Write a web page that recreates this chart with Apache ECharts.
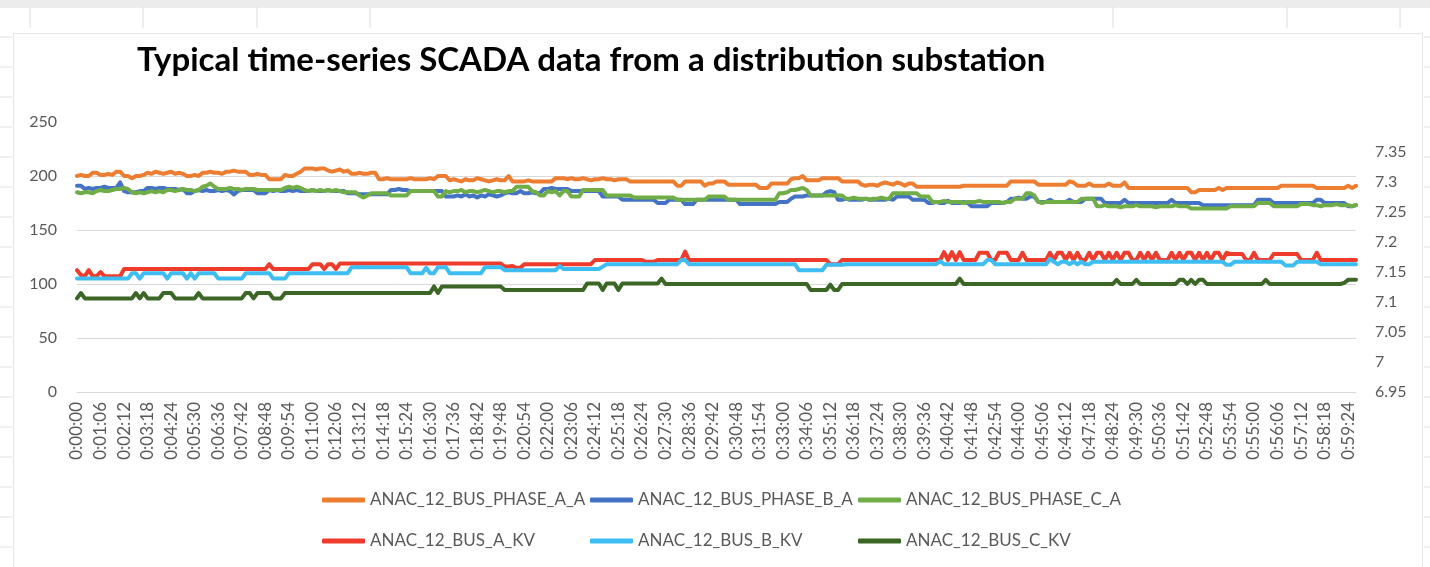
<!DOCTYPE html>
<html>
<head>
<meta charset="utf-8">
<script src="https://cdn.jsdelivr.net/npm/echarts@6/dist/echarts.min.js"></script>
<style>
  html, body { margin: 0; padding: 0; background: #ffffff; }
  #chart { width: 1430px; height: 567px; }
</style>
</head>
<body>
<div id="chart"></div>
<script>
// Sampling: one reading every 11 s for one hour (0:00:00 … 0:59:46)
const sampleStepSeconds = 11;
const sampleCount = 327;
const timeLabels = [];
for (let i = 0; i < sampleCount; i++) {
  const t = i * sampleStepSeconds;
  const h = Math.floor(t / 3600), m = Math.floor((t % 3600) / 60), s = t % 60;
  timeLabels.push(h + ':' + String(m).padStart(2, '0') + ':' + String(s).padStart(2, '0'));
}

const seriesNames = [
  'ANAC_12_BUS_PHASE_A_A', 'ANAC_12_BUS_PHASE_B_A', 'ANAC_12_BUS_PHASE_C_A',
  'ANAC_12_BUS_A_KV', 'ANAC_12_BUS_B_KV', 'ANAC_12_BUS_C_KV'
];

// Phase currents (A), left axis
const phaseA_A = [
  200,201,200,200, 203,203, 201,201,202,201, 204,204, 200,200, 198, 200,200,201,
  203,202,204,203,202,203,204,202,203,202, 200,200,201,200, 203,203,204,203,203,202,
  204,204,205,204,204,204, 201,201,202,201,201, 197,197,197,197, 201,200,200, 202,204,
  207,207,207,206,207,207, 205,204,205,206,204,205, 202,202,203,202,202, 203,203,
  197,197,198,197,197,
  197,197,197,198,197,197,197,197,198,197, 200,200,200,
  196,197,196,195,197,196,196,198,197,196,195,196,197,196,196, 200,
  195,195,195,195,196,195,195,195,195,195,195, 198,198,198,197,198,
  197,197,198,197,196,197,197,198,197,197,196,197,197,197,
  195,195,195,195,195,195,195,195,195,195,195,195, 191,191, 195,195,195,195,195, 191,
  193,193,195,195,195, 192,192,192,192,192,192,192,192, 189,189,189, 193,193,193,193,193,
  197,198,198,200, 196,196,196,196, 198,198,198,198,198, 195,195,195,195,195,
  192,191,192,192,191, 193,194,193,192,194,193,191,193,193,
  190,190,190,190,190,190,190,190,190,190,190,190,
  191,191,191,191,191,191,191,191,191,191,191,191,
  195,195,195,195,195,195,195, 192,192,192,192,192,192,192,192, 195,194,
  191,191,191,193,191,191,191,191,193,191,191,191, 194,
  189,189,189,189,189,189,189,189,189,189,189,189,189,189,189,189, 185,185,
  187,187,187,187,187, 189,187,189,189,189,
  189,189,189,189,189,189,189,189,189,189,189,
  191,191,191,191,191,191,191,191,191, 189,189,189,189,189,189,189,189, 191,189,191
];

const phaseB_A = [
  191,191, 188,189,188, 189,189,190,189,189,189, 194, 186,185,185,185,186,186,
  189,189,188,189,189, 188,188,188,187,188, 184,184,
  186,187,186,187,186,186,187,186,187, 186,183,186, 187,187,187,187, 184,184,184,
  187,186,187,186,186,187,186,187,186,
  186,186,187,186,186,186,187,186,186,186,186, 184,184,184,
  183,183,183,183,183,183,183,183, 187,187,188,187,187,
  186,186,186,186,186,186,186,186,186, 181,181,181,
  182,181,183,181,182,180,182,181,183,182,181,182,
  184,185,184,184,186,184,184,185,184,184, 188,188,189,188,188,188,188,
  186,186,186,186,186,186,186,186, 181,181,181,181,181,
  178,178,178,178,178,178,178,178,178, 175,175,175, 178,178,178,178, 174,174,174,
  178,178,178,178,178,178,178,178,178,178,178,
  174,174,174,174,174,174,174,174,174,174, 176,176,176, 179,181,181,181,
  182,182,182,182, 182,185,186,185,
  178,178,179,178,178,178,178,179,178,178,178,178,178,179,178,
  181,181,181,181, 178,178,178,178,
  175,175,176,175,175,177,175,175,175,176,175, 172,172,172,172,172,
  175,175,175,175,176, 179,179,180,179,179, 181,181,
  176,176,176,178,176,176,176,176,178,176,176,176, 179,179,179,179,179,
  175,175,175,175,175,178,175,175,175,175,175,175,175,175,175,175,175,178,175,175,175,175,175,175,175,
  173,173,173,173,173,173,173,173,173,173,173,173,173,173, 178,178,178,178,
  175,175,175,175,175,175,175,175,175,175,175,178,178,175,175,175,175,175,175,
  172,172,173
];

const phaseC_A = [
  185,184,185,185,184, 186,187,186,186,187, 188,188,189,188, 185,184,185,184,
  185,186,185,186,185, 187,187,186,187,188,187,187,186,187, 190,191,193,190,
  188,188,188,189,188,188,187,188,188,188, 187,187,187,187,187,187,187,
  189,190,189,190,189, 187,186,187,186,187,186,187,186,187,186, 185,185,185,185,
  182,180,182, 184,184,184,184,184, 182,182,182,182,182, 186,186,186,186,186,186,186,
  181,181,
  186,185,186,186,187,185,186,186,185,186,187,186,185,186,186,185,186,186,
  190,190,190,190, 186,185, 182,182, 186,185,186,182,186,186, 181,181,181,
  187,187,187,187,187,187, 182,182,182,182,182,182,182,
  180,180,180,180,180,180,180,180,180,180,180, 178,178,178,178,178,178,178,178,
  181,181,181,181,181, 178,178,178,178,178,178,178,178,178,178,178,178,178,
  184,184,185, 187,187,188,189,187, 182,182,182,182,182,182,182,182,182,
  179,179,180,179,179,179,178,179,179,180,179,179, 184,184,184,184,184,184,184,
  181,181,181,
  176,176,176,177,176,176,176,176,175,176,176,176,177,176,176,176,176,176,175,176,176,
  179,179,179, 184,184,182, 176,175, 176,176,176,176,176,176,176,176,176,
  179,179,179,179,
  172,172,173,172,172,172,171,172,172,172,173,172,172,172,172,171,172,172,172,172,173,172,172,172,
  170,170,170,170,170,170,170,170,170,170, 172,172,172,172,172,172,172,
  175,175,175,175, 172,172,172,172,172,172,172, 174,174,174,
  173,173,172,173,173,173,174,173,173,173,172,173
];

// Bus voltages (kV), right axis
const busA_KV = [
  7.153,7.145, 7.143, 7.153, 7.143,7.143, 7.15, 7.143,7.143,7.143,7.143,7.143,
  7.155,7.155,7.155,7.155,7.155,7.155,7.155,7.155,7.155,7.155,7.155,7.155,7.155,
  7.155,7.155,7.155,7.155,7.155,7.155,7.155,7.155,7.155,7.155,7.155,7.155,7.155,
  7.155,7.155,7.155,7.155,7.155,7.155,7.155,7.155,7.155,7.155,7.155,
  7.163,
  7.155,7.155,7.155,7.155,7.155,7.155,7.155,7.155,7.155,7.155,
  7.163,7.163,7.163, 7.155, 7.163,7.163, 7.155,
  7.164,7.164,7.164,7.164,7.164,7.164,7.164,7.164,7.164,7.164,7.164,7.164,7.164,7.164,
  7.164,7.164,7.164,7.164,7.164,7.164,7.164,7.164,7.164,7.164,7.164,7.164,7.164,7.164,
  7.164,7.164,7.164,7.164,7.164,7.164,7.164,7.164,7.164,7.164,7.164,7.164,7.164,7.164,
  7.159,7.159,7.16,7.157,7.157,
  7.163,7.163,7.163,7.163,7.163,7.163,7.163,7.163,7.163,7.163,7.163,7.163,7.163,7.163,
  7.163,7.163,7.163,7.163,
  7.17,7.17,7.17,7.17,7.17,7.17,7.17,7.17,7.17,7.17,7.17,7.17,7.17,
  7.167,7.167,7.167, 7.17,7.17,7.17,7.17,7.17,7.17,7.17, 7.184,
  7.17,7.17,7.17,7.17,7.17,7.17,7.17,7.17,7.17,7.17,7.17,7.17,
  7.17,7.17,7.17,7.17,7.17,7.17,7.17,7.17,7.17,7.17,7.17,7.17,
  7.17,7.17,7.17,7.17,7.17,7.17,7.17,7.17,7.17,7.17,7.17,7.17,
  7.163,7.163,7.163,
  7.17,7.17,7.17,7.17,7.17,7.17,7.17,7.17,7.17,7.17,7.17,7.17,7.17,
  7.17,7.17,7.17,7.17,7.17,7.17,7.17,7.17,7.17,7.17,7.17,7.17,7.17,
  7.183,7.17,7.183,7.17,7.183, 7.17,7.17,7.17,7.17, 7.182,7.182,7.182, 7.17,7.17,
  7.182,7.182,7.182, 7.17,7.17,7.17, 7.182, 7.17,7.17,7.17,7.17,7.17,7.17,
  7.182,7.17,7.182,7.182,7.17,7.182,7.17,7.182,7.17,7.17,7.182,7.17,7.182,7.182,
  7.17,7.182,7.17,7.182,7.17,7.182,7.182,7.17,7.17,7.182,7.17,7.182,7.17,7.182,
  7.17,7.17,7.17,
  7.182,7.17,7.182,7.17,7.182,7.182,7.17,7.182,7.17,7.182,7.17,7.182,7.182,7.17,7.182,
  7.18,7.18,7.18,7.18, 7.17,7.17, 7.182, 7.17,7.17,7.17,7.17,
  7.18,7.18,7.18,7.18,7.18,7.18,7.18, 7.17,7.17,7.17, 7.17,7.182,
  7.17,7.17,7.17,7.17,7.17,7.17,7.17,7.17,7.17,7.17
];

const busB_KV = [
  7.139,7.139,7.139,7.139,7.139,7.139,7.139,7.139,7.139,7.139,7.139,7.139,7.139,7.139,
  7.148,7.148, 7.139, 7.148,7.148,7.148,7.148,7.148,7.148, 7.139,
  7.148,7.148,7.148,7.148, 7.139, 7.148, 7.139, 7.148,7.148,7.148,7.148,7.148,
  7.139,7.139,7.139,7.139,7.139,7.139,7.139, 7.148,7.148,7.148,7.148,7.148,7.148,7.148,
  7.139,7.139,7.139,7.139,
  7.148,7.148,7.148,7.148,7.148,7.148,7.148,7.148,7.148,7.148,7.148,7.148,7.148,7.148,7.148,7.148,
  7.158,7.158,7.158,7.158,7.158,7.158,7.158,7.158,7.158,7.158,7.158,7.158,7.158,7.158,7.158,
  7.148,7.148,7.148,7.148, 7.157, 7.148,7.148, 7.158,7.158,7.158,
  7.148,7.148,7.148,7.148,7.148,7.148,7.148,7.148,7.148, 7.158,7.158,7.158,7.158,7.158,
  7.153,7.153,7.153,7.153,7.153,7.153,7.153,7.153,7.153,7.153,7.153,7.153,7.153,7.153,
  7.16, 7.155,7.155,7.155,7.155,7.155,7.155,7.155,7.155,7.155,7.155, 7.159,
  7.163,7.163,7.163,7.163,7.163,7.163,7.163,7.163,7.163,7.163,7.163,7.163,7.163,7.163,
  7.163,7.163,7.163,7.163,7.163, 7.17,7.17,
  7.163,7.163,7.163,7.163,7.163,7.163,7.163,7.163,7.163,7.163,7.163,7.163,7.163,7.163,
  7.163,7.163,7.163,7.163,7.163,7.163,7.163,7.163,7.163,7.163,7.163,7.163,7.163,7.163,
  7.153,7.153,7.153,7.153,7.153,7.153,7.153, 7.162,7.162,7.162,7.162,7.162,
  7.163,7.163,7.163,7.163,7.163,7.163,7.163,7.163,7.163,7.163,7.163,7.163,
  7.163,7.163,7.163,7.163,7.163,7.163,7.163,7.163,7.163,7.163,7.163,7.163,
  7.168, 7.163,7.163,7.163,7.163,7.163,7.163,7.163,7.163,7.163,7.163,7.163, 7.17,7.17,
  7.163,7.163,7.163,7.163,7.163,7.163,7.163,7.163,7.163,7.163,7.163,7.163,7.163,7.163,
  7.172, 7.167,7.163,7.167,7.167,7.163,7.167, 7.163,7.167,7.163,7.163,
  7.167,7.167,7.167,7.167,7.167,7.167,7.167,7.167,7.167,7.167,7.167,7.167,7.167,7.167,
  7.167,7.167,7.167,7.167,7.167,7.167,7.167,7.167,7.167,7.167,7.167,7.167,7.167,7.167,
  7.167,7.167,7.167,7.167,7.167,7.167, 7.162,7.162,
  7.167,7.167,7.167,7.167,7.167,7.167,7.167,7.167,7.167,7.167,7.167,7.167,7.167,
  7.161,7.161,7.161, 7.167,7.167,7.167,7.167,7.167,7.167,
  7.163,7.163,7.163,7.163,7.163,7.163,7.163,7.163,7.163,7.163
];

const busC_KV = [
  7.106, 7.115, 7.106,7.106,7.106,7.106,7.106,7.106,7.106,7.106,7.106,7.106,7.106,7.106,
  7.106, 7.115, 7.106, 7.115, 7.106,7.106,7.106,7.106, 7.115,7.115,7.115,
  7.106,7.106,7.106,7.106,7.106,7.106, 7.115,
  7.106,7.106,7.106,7.106,7.106,7.106,7.106,7.106,7.106,7.106,7.106,
  7.115,7.115, 7.106, 7.115,7.115,7.115,7.115, 7.106,7.106,7.106,
  7.115,7.115,7.115,7.115,7.115,7.115,7.115,7.115,7.115,7.115,7.115,7.115,7.115,
  7.115,7.115,7.115,7.115,7.115,7.115,7.115,7.115,7.115,7.115,7.115,7.115,7.115,
  7.115,7.115,7.115,7.115,7.115,7.115,7.115,7.115,7.115,7.115,7.115,7.115,
  7.126, 7.115,
  7.126,7.126,7.126,7.126,7.126,7.126,7.126,7.126,7.126,7.126,7.126,7.126,7.126,7.126,7.126,7.126,
  7.12,7.12,7.12,7.12,7.12,7.12,7.12,7.12,7.12,7.12,7.12,7.12,7.12,7.12,7.12,7.12,7.12,7.12,7.12,7.12,7.12,
  7.131,7.131,7.131,7.131, 7.12, 7.131,7.131,7.131, 7.12,
  7.131,7.131,7.131,7.131,7.131,7.131,7.131,7.131,7.131,7.131, 7.139,
  7.13,7.13,7.13,7.13,7.13,7.13,7.13,7.13,7.13,7.13,7.13,7.13,7.13,7.13,7.13,7.13,7.13,7.13,7.13,
  7.13,7.13,7.13,7.13,7.13,7.13,7.13,7.13,7.13,7.13,7.13,7.13,7.13,7.13,7.13,7.13,7.13,7.13,
  7.12,7.12,7.12,7.12,7.12, 7.129, 7.12,7.12,
  7.13,7.13,7.13,7.13,7.13,7.13,7.13,7.13,7.13,7.13,7.13,7.13,7.13,7.13,7.13,
  7.13,7.13,7.13,7.13,7.13,7.13,7.13,7.13,7.13,7.13,7.13,7.13,7.13,7.13,7.13,
  7.139,
  7.13,7.13,7.13,7.13,7.13,7.13,7.13,7.13,7.13,7.13,7.13,7.13,7.13,7.13,7.13,7.13,7.13,7.13,7.13,7.13,
  7.13,7.13,7.13,7.13,7.13,7.13,7.13,7.13,7.13,7.13,7.13,7.13,7.13,7.13,7.13,7.13,7.13,7.13,7.13,
  7.137, 7.13,7.13,7.13,7.13, 7.137, 7.13,7.13,7.13,7.13,7.13,7.13,7.13,7.13,7.13,7.13,
  7.137,7.137, 7.13, 7.137, 7.13, 7.137,7.137,
  7.13,7.13,7.13,7.13,7.13,7.13,7.13,7.13,7.13,7.13,7.13,7.13,7.13,7.13,7.13, 7.137,
  7.13,7.13,7.13,7.13,7.13,7.13,7.13,7.13,7.13,7.13,7.13,7.13,7.13,7.13,7.13,7.13,7.13,7.13,7.13,
  7.132, 7.137,7.137,7.137
];

const seriesData = [phaseA_A, phaseB_A, phaseC_A, busA_KV, busB_KV, busC_KV];
const seriesColors = ['#ED7D31', '#4472C4', '#70AD47', '#EE3B2B', '#3DBDF2', '#3B6626'];
const seriesAxis = [0, 0, 0, 1, 1, 1];

const leftTicks = { min: 0, max: 250, step: 50 };
const rightTicks = { min: 6.95, max: 7.4, step: 0.05 };

const FONT = 'Lato, "Open Sans", sans-serif';
const LABEL_COLOR = '#595959';

const chart = echarts.init(document.getElementById('chart'), null, { renderer: 'canvas' });

// Worksheet cells showing around the chart panel
const sheetLines = [];
[30, 143, 257, 370, 1113, 1287, 1400].forEach(x => sheetLines.push({
  type: 'line', shape: { x1: x, y1: 7, x2: x, y2: 28 }, style: { stroke: '#dcdcdc', lineWidth: 1 }, silent: true
}));
for (let y = 37; y < 567; y += 30) {
  sheetLines.push({ type: 'line', shape: { x1: 0, y1: y, x2: 12, y2: y }, style: { stroke: '#e2e2e2', lineWidth: 1 }, silent: true });
  sheetLines.push({ type: 'line', shape: { x1: 1424, y1: y, x2: 1430, y2: y }, style: { stroke: '#e2e2e2', lineWidth: 1 }, silent: true });
}

const legendCols = [322, 590, 858];
const legendRows = [490, 531];

const option = {
  animation: false,
  backgroundColor: '#ffffff',
  textStyle: { fontFamily: FONT },
  graphic: [
    { type: 'rect', z: -20, shape: { x: 0, y: 0, width: 1430, height: 8 }, style: { fill: '#ececec' }, silent: true },
    ...sheetLines.map(l => Object.assign({ z: -20 }, l)),
    { type: 'rect', z: -10, shape: { x: 13.5, y: 33.5, width: 1409, height: 540 },
      style: { fill: '#ffffff', stroke: '#e4e4e4', lineWidth: 1 }, silent: true }
  ],
  title: {
    text: 'Typical time-series SCADA data from a distribution substation',
    left: 137, top: 44, padding: 0,
    textStyle: { fontFamily: FONT, fontWeight: 'bold', fontSize: 33, color: '#000000' }
  },
  legend: seriesNames.map((name, k) => ({
    data: [name],
    left: legendCols[k % 3], top: legendRows[Math.floor(k / 3)],
    padding: 0, itemWidth: 43, itemHeight: 5, icon: 'roundRect', itemGap: 0,
    textStyle: { fontFamily: FONT, fontSize: 17, color: LABEL_COLOR, lineHeight: 20 }
  })),
  grid: { left: 77, right: 74, top: 122, bottom: 175 },
  xAxis: {
    type: 'category',
    data: timeLabels,
    boundaryGap: false,
    axisLine: { show: true, lineStyle: { color: '#d9d9d9', width: 1 } },
    axisTick: { show: false },
    axisLabel: { interval: 5, rotate: 90, color: LABEL_COLOR, fontSize: 17, fontFamily: FONT, margin: 10 }
  },
  yAxis: [
    {
      type: 'value', min: leftTicks.min, max: leftTicks.max, interval: leftTicks.step,
      axisLine: { show: false }, axisTick: { show: false },
      axisLabel: { color: LABEL_COLOR, fontSize: 16, fontFamily: FONT, margin: 20 },
      splitLine: { lineStyle: { color: ['#d9d9d9', '#d9d9d9', '#d9d9d9', '#d9d9d9', '#d9d9d9', '#ffffff'], width: 1 } }
    },
    {
      type: 'value', position: 'right', min: rightTicks.min, max: rightTicks.max, interval: rightTicks.step,
      axisLine: { show: false }, axisTick: { show: false }, splitLine: { show: false },
      axisLabel: {
        color: LABEL_COLOR, fontSize: 16, fontFamily: FONT, margin: 19, showMaxLabel: false,
        formatter: v => String(Math.round(v * 100) / 100)
      }
    }
  ],
  series: seriesNames.map((name, k) => ({
    name: name,
    type: 'line',
    yAxisIndex: seriesAxis[k],
    data: seriesData[k],
    color: seriesColors[k],
    showSymbol: false,
    symbol: 'none',
    smooth: false,
    lineStyle: { width: 4, color: seriesColors[k], cap: 'round', join: 'round' },
    emphasis: { disabled: true }
  }))
};

chart.setOption(option);
</script>
</body>
</html>
